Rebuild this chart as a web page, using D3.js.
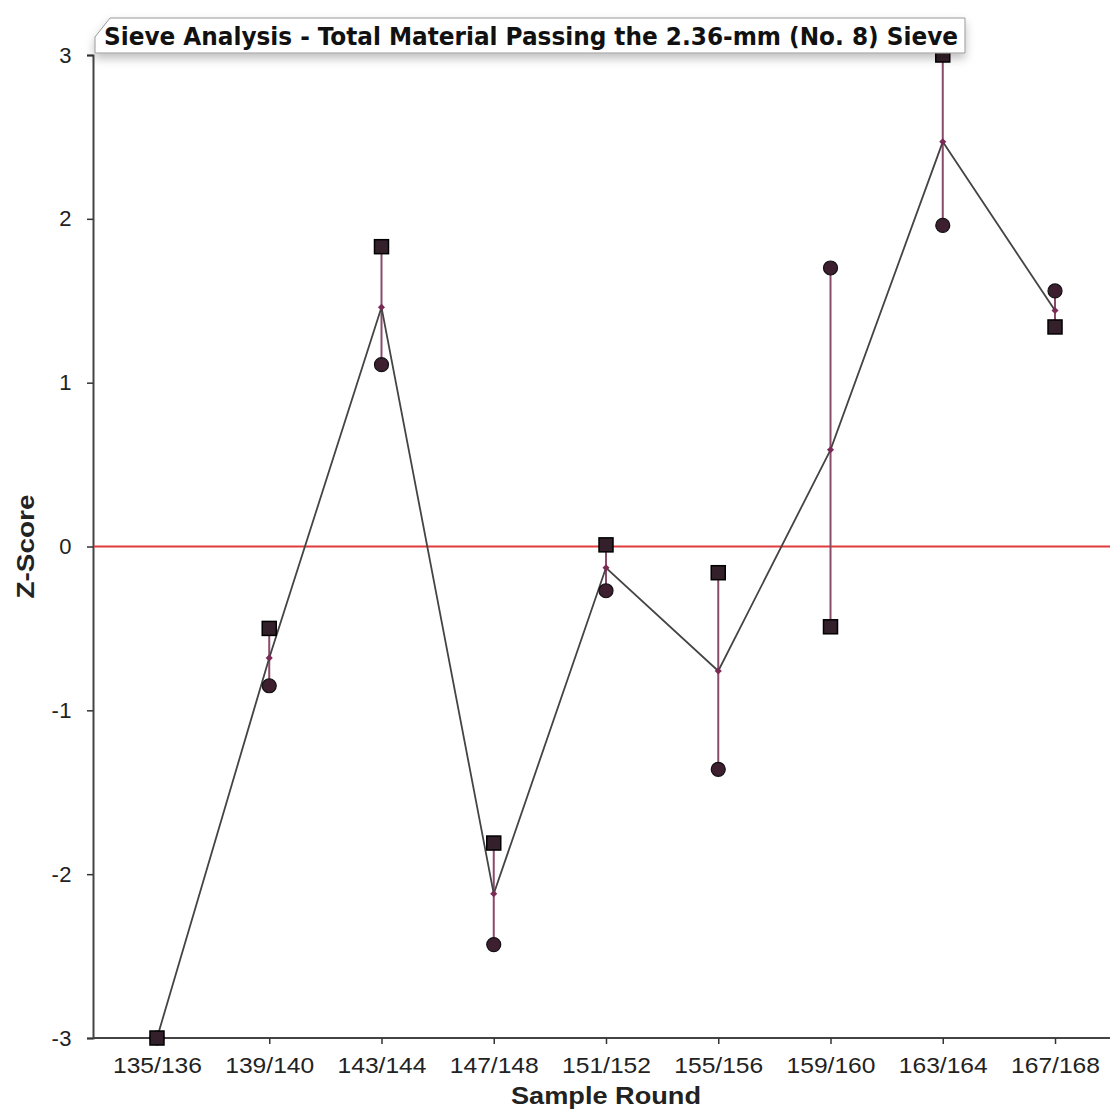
<!DOCTYPE html>
<html>
<head>
<meta charset="utf-8">
<script src="https://cdn.jsdelivr.net/npm/d3@7"></script>
<style>
	body { margin: 0; background: #fff; }
	svg { display: block; }
</style>
</head>
<body>
<svg id="chart" width="1110" height="1109"></svg>
<script>
const rounds = ['135/136', '139/140', '143/144', '147/148', '151/152', '155/156', '159/160', '163/164', '167/168'];
const squareScores = [-3, -0.5, 1.83, -1.81, 0.01, -0.16, -0.49, 3.0, 1.34];
const circleScores = [-3, -0.85, 1.11, -2.43, -0.27, -1.36, 1.7, 1.96, 1.56];
const meanScores = [-3, -0.68, 1.46, -2.12, -0.13, -0.76, 0.59, 2.47, 1.44];
const yTicks = [-3, -2, -1, 0, 1, 2, 3];

const title = 'Sieve Analysis - Total Material Passing the 2.36-mm (No. 8) Sieve';

const svg = d3.select('#chart');
const plotLeft = 93, plotTop = 55, plotBottom = 1038;

const x = d3.scalePoint().domain(rounds).range([plotLeft, 1119]).padding(0.57);
const y = d3.scaleLinear().domain([-3, 3]).range([plotBottom, plotTop]);

const rows = rounds.map((r, i) => ({
	round: r,
	sq: squareScores[i],
	ci: circleScores[i],
	mean: meanScores[i],
}));

// axes
const yAxis = svg.append('g')
	.attr('transform', `translate(${plotLeft},0)`)
	.call(d3.axisLeft(y).tickValues(yTicks).tickSize(6).tickPadding(15).tickFormat((d) => String(d)));
const xAxis = svg.append('g')
	.attr('transform', `translate(0,${plotBottom})`)
	.call(d3.axisBottom(x).tickSize(6).tickPadding(13));

[yAxis, xAxis].forEach((g) => {
	g.select('.domain').attr('stroke', '#444').attr('stroke-width', 2);
	g.selectAll('.tick line').attr('stroke', '#333').attr('stroke-width', 1.5);
	g.selectAll('.tick text')
		.attr('fill', '#222')
		.style('font-family', 'Liberation Sans, Arial, sans-serif')
		.style('font-size', '22px');
});
xAxis.select('.domain').attr('d', `M${plotLeft},0H1110`);
xAxis.selectAll('.tick text')
	.attr('textLength', 89)
	.attr('lengthAdjust', 'spacingAndGlyphs');
yAxis.selectAll('.tick text').attr('letter-spacing', 0.5);

// zero line
svg.append('line')
	.attr('x1', plotLeft + 1).attr('x2', 1110)
	.attr('y1', y(0)).attr('y2', y(0))
	.attr('stroke', '#e23b3b')
	.attr('stroke-width', 2);

// axis titles
svg.append('text')
	.attr('x', 606).attr('y', 1104)
	.attr('text-anchor', 'middle')
	.attr('textLength', 190)
	.attr('lengthAdjust', 'spacingAndGlyphs')
	.style('font-family', 'Liberation Sans, Arial, sans-serif')
	.style('font-size', '24px')
	.style('font-weight', 'bold')
	.attr('fill', '#222')
	.text('Sample Round');
svg.append('text')
	.attr('transform', `translate(34,${y(0)}) rotate(-90)`)
	.attr('text-anchor', 'middle')
	.attr('textLength', 104)
	.attr('lengthAdjust', 'spacingAndGlyphs')
	.style('font-family', 'Liberation Sans, Arial, sans-serif')
	.style('font-size', '23px')
	.style('font-weight', 'bold')
	.attr('fill', '#222')
	.text('Z-Score');

// range lines between the two results
svg.append('g')
	.selectAll('line')
	.data(rows)
	.join('line')
	.attr('x1', (d) => x(d.round)).attr('x2', (d) => x(d.round))
	.attr('y1', (d) => y(d.sq)).attr('y2', (d) => y(d.ci))
	.attr('stroke', '#8a4a6a')
	.attr('stroke-width', 2);

// mean line
svg.append('path')
	.datum(rows)
	.attr('d', d3.line().x((d) => x(d.round)).y((d) => y(d.mean)))
	.attr('fill', 'none')
	.attr('stroke', '#444')
	.attr('stroke-width', 1.8);

// mean markers
svg.append('g')
	.selectAll('path')
	.data(rows)
	.join('path')
	.attr('transform', (d) => `translate(${x(d.round)},${y(d.mean)}) rotate(45)`)
	.attr('d', 'M-2.5,-2.5H2.5V2.5H-2.5Z')
	.attr('fill', '#7a2a55');

// circles
svg.append('g')
	.selectAll('circle')
	.data(rows)
	.join('circle')
	.attr('cx', (d) => x(d.round))
	.attr('cy', (d) => y(d.ci))
	.attr('r', 7)
	.attr('fill', '#3d1f30')
	.attr('stroke', '#111')
	.attr('stroke-width', 1.2);

// squares
svg.append('g')
	.selectAll('rect')
	.data(rows)
	.join('rect')
	.attr('x', (d) => x(d.round) - 7)
	.attr('y', (d) => y(d.sq) - 7)
	.attr('width', 14).attr('height', 14)
	.attr('fill', '#33202b')
	.attr('stroke', '#000')
	.attr('stroke-width', 1.5);

// title box
const defs = svg.append('defs');
const f = defs.append('filter').attr('id', 'shadow').attr('x', '-5%').attr('y', '-30%').attr('width', '110%').attr('height', '180%');
f.append('feDropShadow').attr('dx', 0).attr('dy', 5).attr('stdDeviation', 5).attr('flood-color', '#000').attr('flood-opacity', 0.25);

svg.append('path')
	.attr('d', 'M95,37L110,18H965V53H95Z')
	.attr('fill', '#fff')
	.attr('stroke', '#999')
	.attr('stroke-width', 1)
	.attr('filter', 'url(#shadow)');
svg.append('text')
	.attr('x', 104).attr('y', 45)
	.attr('textLength', 854)
	.attr('lengthAdjust', 'spacingAndGlyphs')
	.style('font-family', 'DejaVu Sans Condensed, DejaVu Sans, sans-serif')
	.style('font-size', '24px')
	.style('font-weight', 'bold')
	.attr('fill', '#111')
	.text(title);
</script>
</body>
</html>
